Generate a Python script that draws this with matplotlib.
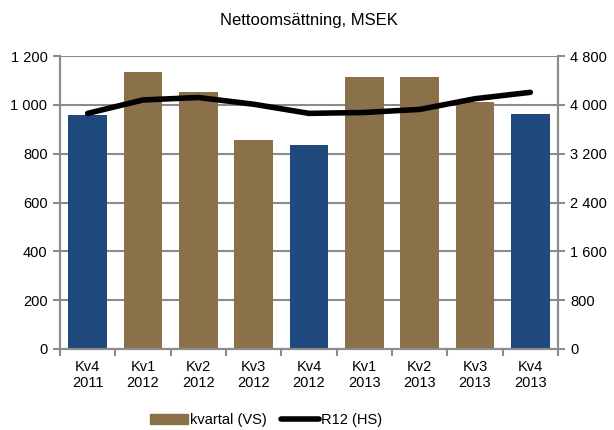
import numpy as np
import matplotlib
matplotlib.use("Agg")
import matplotlib.pyplot as plt
from matplotlib.ticker import FuncFormatter

plt.rcParams['font.family'] = ['Liberation Sans', 'DejaVu Sans']
plt.rcParams['font.size'] = 10.5

# data
quarters = ["Kv4\n2011", "Kv1\n2012", "Kv2\n2012", "Kv3\n2012", "Kv4\n2012",
            "Kv1\n2013", "Kv2\n2013", "Kv3\n2013", "Kv4\n2013"]
kvartal = [958, 1133, 1054, 856, 835, 1115, 1115, 1013, 962]
r12 = [3860, 4080, 4120, 4010, 3860, 3875, 3925, 4100, 4205]
is_q4 = [True, False, False, False, True, False, False, False, True]

BLUE = '#1F497D'
BROWN = '#8A7149'
GRID = '#8C8C8C'


def space_thousands(v, pos):
    return f"{int(v):,}".replace(",", " ")


fig = plt.figure(figsize=(6.14, 4.30), dpi=100)
ax1 = fig.add_axes([60 / 614, 1 - 349 / 430, (558 - 60) / 614, (349 - 56) / 430])
ax2 = ax1.twinx()

x = np.arange(len(quarters))
colors = [BLUE if q else BROWN for q in is_q4]
ax1.bar(x, kvartal, width=0.7, color=colors, zorder=2)
ax2.plot(x, r12, color='black', lw=4, solid_joinstyle='round',
         solid_capstyle='round', zorder=3)

ax1.set_xlim(-0.5, len(quarters) - 0.5)
ax1.set_ylim(0, 1200)
ax2.set_ylim(0, 4800)
ax1.set_yticks(np.arange(0, 1201, 200))
ax2.set_yticks(np.arange(0, 4801, 800))
ax1.yaxis.set_major_formatter(FuncFormatter(space_thousands))
ax2.yaxis.set_major_formatter(FuncFormatter(space_thousands))

ax1.yaxis.grid(True, color=GRID, lw=1.5, zorder=0)
ax1.set_axisbelow(True)

# category labels centred, tick marks between categories
ax1.set_xticks(x)
ax1.set_xticklabels(quarters, linespacing=1.15)
ax1.tick_params(axis='x', length=0, pad=8)
ax1.set_xticks(np.arange(-0.5, len(quarters), 1), minor=True)
ax1.tick_params(axis='x', which='minor', length=5, width=1.5, color=GRID)

for ax in (ax1, ax2):
    ax.spines['top'].set_visible(False)
    for side in ('left', 'right', 'bottom'):
        ax.spines[side].set_color(GRID)
        ax.spines[side].set_linewidth(1.5)
    ax.tick_params(axis='y', length=5, width=1.5, color=GRID, pad=4)

fig.text(309 / 614, 1 - 21 / 430, "Nettoomsättning, MSEK", ha='center', va='center', fontsize=12)

handles = [plt.Rectangle((0, 0), 1, 1, color=BROWN),
           plt.Line2D([0], [0], color='black', lw=4, solid_capstyle='round')]
fig.legend(handles, ["kvartal (VS)", "R12 (HS)"], loc='center',
           bbox_to_anchor=(266 / 614, 1 - 420 / 430), ncol=2, frameon=False,
           handlelength=2.6, handletextpad=0.15, columnspacing=1.0)

fig.savefig("out.png", dpi=100)
